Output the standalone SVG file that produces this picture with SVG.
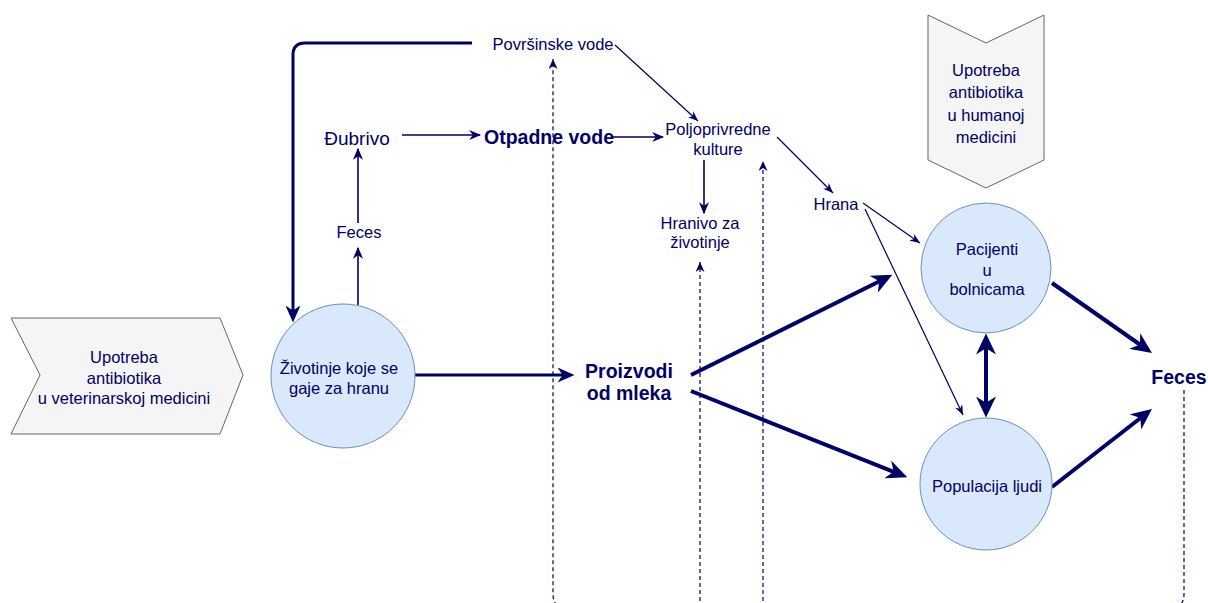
<svg xmlns="http://www.w3.org/2000/svg" width="1208" height="603" viewBox="0 0 1208 603">
<style>
text{font-family:"Liberation Sans",Arial,sans-serif;fill:#000066;text-anchor:middle}
.n{font-size:16.5px}
.b{font-size:19.5px;font-weight:bold}
.c{fill:#dae8fc;stroke:#6c8ebf;stroke-width:1}
.s{fill:#f5f5f5;stroke:#666666;stroke-width:1}
.e{fill:none;stroke:#000066}
.t1{stroke-width:1.2}
.t2{stroke-width:1.6}
.t3{stroke-width:3}
.t4{stroke-width:4}
.d{stroke-width:1.2;stroke-dasharray:4 3}
</style>
<defs>
<marker id="a1" viewBox="0 0 10 10" preserveAspectRatio="none" markerUnits="userSpaceOnUse" markerWidth="10" markerHeight="8" refX="10" refY="5" orient="auto"><path d="M0,0 L10,5 L0,10 L3,5 Z" fill="#000066"/></marker>
<marker id="a2" viewBox="0 0 10 10" preserveAspectRatio="none" markerUnits="userSpaceOnUse" markerWidth="12" markerHeight="10" refX="9" refY="5" orient="auto"><path d="M0,0 L10,5 L0,10 L3,5 Z" fill="#000066"/></marker>
<marker id="ad" viewBox="0 0 10 10" preserveAspectRatio="none" markerUnits="userSpaceOnUse" markerWidth="10" markerHeight="9" refX="10" refY="5" orient="auto"><path d="M0,0 L10,5 L0,10 L3,5 Z" fill="#000066"/></marker>
<marker id="a3" viewBox="0 0 10 10" preserveAspectRatio="none" markerUnits="userSpaceOnUse" markerWidth="17" markerHeight="15" refX="5" refY="5" orient="auto"><path d="M0,0 L10,5 L0,10 L3,5 Z" fill="#000066"/></marker>
<marker id="a4" viewBox="0 0 10 10" preserveAspectRatio="none" markerUnits="userSpaceOnUse" markerWidth="21" markerHeight="19" refX="5" refY="5" orient="auto"><path d="M0,0 L10,5 L0,10 L3,5 Z" fill="#000066"/></marker>
<marker id="a4s" viewBox="0 0 10 10" preserveAspectRatio="none" markerUnits="userSpaceOnUse" markerWidth="21" markerHeight="20" refX="5" refY="5" orient="auto-start-reverse"><path d="M0,0 L10,5 L0,10 L3,5 Z" fill="#000066"/></marker>
</defs>

<g id="connectors">
<path class="e d" d="M1184,390 V594 Q1184,608 1170,608 H567 Q553,608 553,594 V59" marker-end="url(#ad)"/>
<path class="e d" d="M700,608 V262" marker-end="url(#ad)"/>
<path class="e d" d="M763,608 V161" marker-end="url(#ad)"/>
<path class="e t3" d="M472,43 H305 Q293,43 293,55 V314" marker-end="url(#a3)"/>
<path class="e t2" d="M358,305 V248" marker-end="url(#a2)"/>
<path class="e t2" d="M358,223 V149" marker-end="url(#a2)"/>
<path class="e t2" d="M402,135 H480" marker-end="url(#a2)"/>
<path class="e t2" d="M612,137 H663" marker-end="url(#a2)"/>
<path class="e t1" d="M615,45 L698,121" marker-end="url(#a1)"/>
<path class="e t2" d="M704,160 V213" marker-end="url(#a2)"/>
<path class="e t1" d="M777,137 L833,193" marker-end="url(#a1)"/>
<path class="e t1" d="M863,203 L920,243" marker-end="url(#a1)"/>
<path class="e t1" d="M865,209 L963,415" marker-end="url(#a1)"/>
<path class="e t3" d="M415,375 H566" marker-end="url(#a3)"/>
<path class="e t4" d="M691,375 L883,279.5" marker-end="url(#a4)"/>
<path class="e t4" d="M691,391 L897.5,473.3" marker-end="url(#a4)"/>
<path class="e t4" d="M986,344 V407" marker-start="url(#a4s)" marker-end="url(#a4s)"/>
<path class="e t4" d="M1052,283 L1143.4,347" marker-end="url(#a4)"/>
<path class="e t4" d="M1052,487 L1143.7,415.5" marker-end="url(#a4)"/>
</g>

<g id="vet">
<path class="s" d="M11,318 H220 L243,375 L220,434 H11 L40,375 Z"/>
<text class="n" x="124" y="363">Upotreba</text>
<text class="n" x="124" y="384">antibiotika</text>
<text class="n" x="124" y="404">u veterinarskoj medicini</text>
</g>

<g id="hum">
<path class="s" d="M928,15 L986,43 L1044,15 V160 L986,188 L928,160 Z"/>
<text class="n" x="986" y="76">Upotreba</text>
<text class="n" x="986" y="98">antibiotika</text>
<text class="n" x="986" y="121">u humanoj</text>
<text class="n" x="986" y="143">medicini</text>
</g>

<g id="zivotinje">
<circle class="c" cx="343" cy="376" r="72"/>
<text class="n" x="339" y="374">Životinje koje se</text>
<text class="n" x="339" y="394">gaje za hranu</text>
</g>

<g id="pacijenti">
<circle class="c" cx="986" cy="268" r="65"/>
<text class="n" x="987" y="255">Pacijenti</text>
<text class="n" x="987" y="276">u</text>
<text class="n" x="987" y="295">bolnicama</text>
</g>

<g id="populacija">
<circle class="c" cx="986" cy="484" r="66"/>
<text class="n" x="987" y="492">Populacija ljudi</text>
</g>

<g id="povrsinske"><text class="n" x="553" y="50">Površinske vode</text></g>
<g id="dubrivo"><text x="357" y="145" style="font-size:19px">Đubrivo</text></g>
<g id="otpadne"><text class="b" x="549" y="144">Otpadne vode</text></g>
<g id="poljoprivredne">
<text class="n" x="718" y="135">Poljoprivredne</text>
<text class="n" x="718" y="155">kulture</text>
</g>
<g id="hranivo">
<text class="n" x="700" y="229">Hranivo za</text>
<text class="n" x="700" y="248">životinje</text>
</g>
<g id="hrana"><text class="n" x="836" y="210">Hrana</text></g>
<g id="feces1"><text class="n" x="359" y="238">Feces</text></g>
<g id="proizvodi">
<text class="b" x="629" y="378">Proizvodi</text>
<text class="b" x="629" y="400">od mleka</text>
</g>
<g id="feces2"><text class="b" x="1179" y="384">Feces</text></g>
</svg>
